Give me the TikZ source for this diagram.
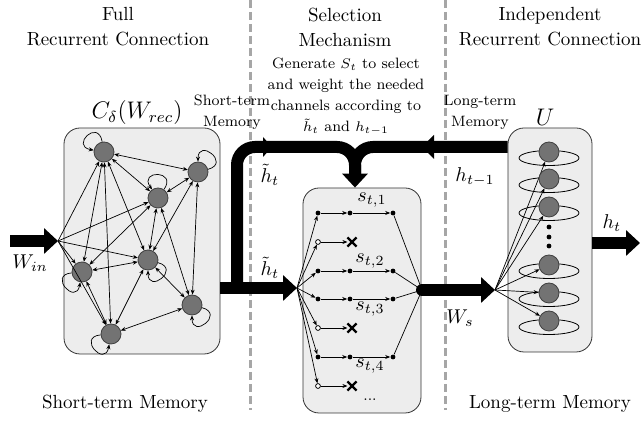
\documentclass[tikz,border=0pt]{standalone}
\usetikzlibrary{arrows.meta, shapes.misc}

\begin{document}
\begin{tikzpicture}[
        x=.5pt, y=.5pt,
        panel/.style={draw=black!80, fill=black!7, rounded corners=8pt, line width=.4pt},
        neuron/.style={circle, draw=black!75, fill=black!55, minimum size=10pt, inner sep=0pt, line width=.4pt},
        link/.style={{Stealth[length=2.5pt,width=2pt]}-{Stealth[length=2.5pt,width=2pt]}, line width=.35pt},
        feed/.style={-{Stealth[length=2.5pt,width=2pt]}, line width=.35pt},
        selfloop/.style={-{Stealth[length=2.5pt,width=2pt]}, line width=.35pt},
        flow/.style={line width=6pt, -{Triangle[length=7pt, width=12.5pt]}},
        bar/.style={line width=6pt},
        divider/.style={draw=black!35, line width=1.5pt, dash pattern=on 4pt off 2pt},
        dotf/.style={circle, fill=black, inner sep=0pt, minimum size=2.4pt},
        doto/.style={circle, draw=black, fill=white, inner sep=0pt, minimum size=2.4pt, line width=.4pt},
        drop/.style={cross out, draw=black, line width=1.1pt, inner sep=0pt, minimum size=3.5pt},
        title/.style={font=\fontsize{9.5}{12.5}\selectfont, align=center},
        note/.style={font=\fontsize{7.5}{10.5}\selectfont, align=center},
        sym/.style={font=\fontsize{10}{12}\selectfont},
    ]
    \useasboundingbox (0,0) rectangle (644,422);

    %% section titles and dividers
    \node[title] (t1) at (118,395) {Full\\Recurrent Connection};
    \node[title] (t2) at (345,395) {Selection\\Mechanism};
    \node[title] (t3) at (550,395) {Independent\\Recurrent Connection};
    \draw[divider] (250,422) -- (250,12);
    \draw[divider] (445,422) -- (445,12);
    \node[note] (gen) at (346,325) {Generate $S_t$ to select\\and weight the needed\\channels according to\\$\tilde{h}_t$ and $h_{t-1}$};
    \node[note] (stm) at (232,310) {Short-term\\Memory};
    \node[note] (ltm) at (480,310) {Long-term\\Memory};
    \node[title] (b1) at (125,18) {Short-term Memory};
    \node[title] (b2) at (550,18) {Long-term Memory};

    %% the three panels
    \node[panel, minimum width=78pt, minimum height=113pt] (full) at (142,181) {};
    \node[panel, minimum width=59pt, minimum height=112.5pt] (sel) at (362,121.5) {};
    \node[panel, minimum width=42pt, minimum height=112pt] (indep) at (550,182) {};
    \node[font=\fontsize{11.5}{13}\selectfont] (cw) at (137,309) {$C_\delta(W_{rec})$};
    \node[font=\fontsize{12}{14}\selectfont] (uu) at (545,305) {$U$};

    %% full recurrent network
    \foreach \n/\x/\y in {A/104/270, B/198/250, C/158/224, D/148/162, E/82/150, F/192/117, G/111/88}
        \node[neuron] (\n) at (\x,\y) {};
    \foreach \n/\o/\i in {A/100/170, B/15/90, C/55/125, D/-15/-90, E/185/260, F/-15/-90, G/185/260}
        \draw[selfloop] (\n.\o) .. controls +(\o:12pt) and +(\i:12pt) .. (\n.\i);
    \foreach \a/\b in {A/B, A/C, C/B, C/D, B/D, B/F, C/F, D/F, D/E, D/G, E/G, F/G, E/C, A/E, A/G, A/D}
        \draw[link] (\a) -- (\b);
    \coordinate (src) at (10,181);
    \coordinate (xin) at (58,181);
    \draw[flow] (src) -- (xin);
    \foreach \n in {A, C, D, E, G}
        \draw[feed] (xin) -- (\n);
    \node[sym] (win) at (30,159) {$W_{in}$};

    %% short-term memory goes on, and up to the selection
    \coordinate (split) at (237,134);
    \coordinate (mfan) at (297,134);
    \coordinate (merge) at (355,275);
    \coordinate (mdown) at (355,245);
    \draw[flow] (full.east |- mfan) -- (mfan);
    \draw[flow, rounded corners=9pt] (split) |- (merge) -- (merge |- sel.north);
    \draw[bar, rounded corners=9pt] (indep.west |- merge) -- (merge) -- (mdown);
    \fill (263,285) -- (272,275) -- (263,265) -- cycle;
    \fill (434,287) -- (422,275) -- (434,263) -- cycle;
    \node[sym] (hs1) at (270,247) {$\tilde{h}_t$};
    \node[sym] (hs2) at (270,154) {$\tilde{h}_t$};
    \node[sym] (hl) at (475,245) {$h_{t-1}$};

    %% selection: kept channels and dropped channels
    \coordinate (mout) at (422,132);
    \foreach \r/\y in {1/209, 3/151, 4/123, 6/65} {
        \node[dotf] (a\r) at (318,\y) {};
        \node[dotf] (b\r) at (350,\y) {};
        \node[dotf] (c\r) at (393,\y) {};
        \draw[feed] (mfan) -- (a\r);
        \draw[feed] (a\r) -- (b\r);
        \draw[feed] (b\r) -- (c\r);
        \draw[line width=.35pt] (c\r) -- (mout);
    }
    \foreach \r/\y in {2/180, 5/94, 7/36} {
        \node[doto] (a\r) at (318,\y) {};
        \node[drop] (b\r) at (352,\y) {};
        \draw[feed] (mfan) -- (a\r);
        \draw[feed] (a\r) -- (b\r);
    }
    \node[sym] (s1) at (372,222) {$s_{t,1}$};
    \node[sym] (s2) at (370,161) {$s_{t,2}$};
    \node[sym] (s3) at (370,113) {$s_{t,3}$};
    \node[sym] (s4) at (370,56) {$s_{t,4}$};
    \node[note] (more) at (370,22) {...};

    %% independent recurrent neurons
    \coordinate (rfan) at (495,132);
    \draw[flow, line cap=round] (mout) -- (rfan);
    \node[sym] (ws) at (460,104) {$W_s$};
    \foreach \i/\y in {1/270, 2/243, 3/215, 4/157, 5/129, 6/101} {
        \draw[line width=.4pt] (549,\y-6) ellipse [x radius=15pt, y radius=3.75pt];
        \node[neuron] (u\i) at (549,\y) {};
        \draw[feed] (rfan) -- (u\i);
    }
    \foreach \y in {195, 185, 176}
        \fill (549,\y) circle (1.2pt);
    \coordinate (yout) at (640,179);
    \draw[flow] (indep.east |- yout) -- (yout);
    \node[sym] (ht) at (612,199) {$h_t$};
\end{tikzpicture}
\end{document}
